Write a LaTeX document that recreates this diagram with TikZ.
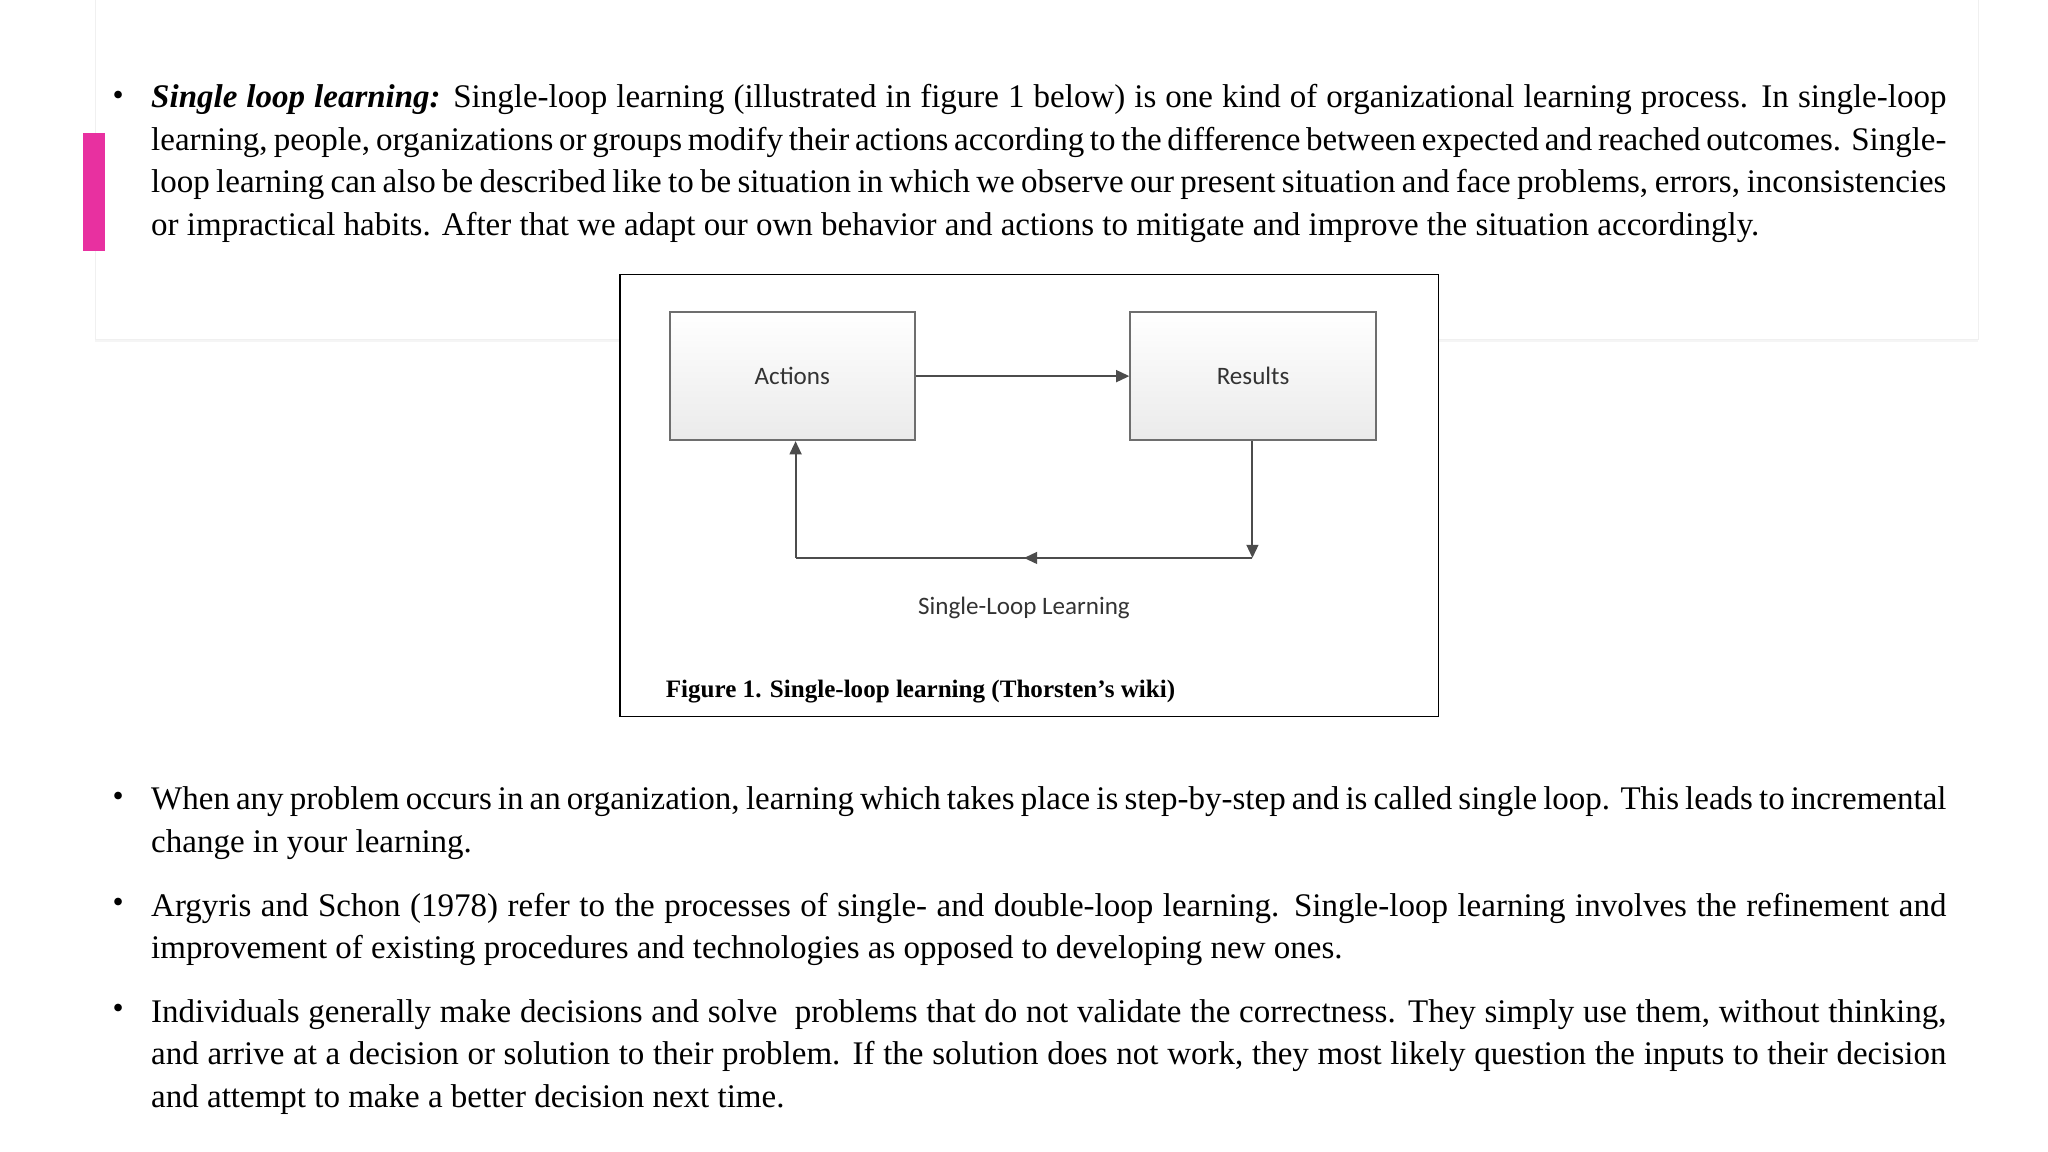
\documentclass[tikz,border=0pt]{standalone}
\usepackage{fontspec}
\setmainfont{Liberation Serif}
\newfontfamily\carl{Carlito}
\usetikzlibrary{arrows.meta,decorations.markings,shadows}
\definecolor{pinkbar}{RGB}{232,48,160}
\definecolor{boxgray}{RGB}{110,110,110}
\tikzset{
  para/.style={anchor=north west,inner sep=0pt,text width=1360pt,align=justify,font=\fontsize{25}{32.2}\selectfont},
  bul/.style={anchor=base,inner sep=0pt,font=\fontsize{24}{32}\selectfont},
  fbox/.style={draw=boxgray,line width=1.5pt,minimum width=186pt,minimum height=97pt,top color=white,bottom color=black!8,font=\carl\fontsize{19}{22}\selectfont,text=black!80},
  conn/.style={draw=black!70,line width=1.5pt,-{Triangle[length=10pt,width=9pt]}}
}
\begin{document}
\begin{tikzpicture}[x=0.9946pt,y=-0.9946pt]
\useasboundingbox (0,0) rectangle (1560,877.5);
\fill[white] (0,0) rectangle (1560,877.5);
% card
\node[fill=white,draw=black!6,minimum width=1427pt,minimum height=268pt,anchor=south west,inner sep=0pt,drop shadow={opacity=0.08,shadow xshift=0pt,shadow yshift=-2pt}] (card) at (72,259) {};
\fill[pinkbar] (63,101) rectangle (80,191);
% paragraph 1
\node[bul] (b1) at (90,80) {•};
\node[para] (p1) at (115,64) {\textbf{\textit{Single loop learning:}} Single-loop learning (illustrated in figure 1 below) is one kind of organizational learning process. In single-loop learning, people, organizations or groups modify their actions according to the difference between expected and reached outcomes. Single-loop learning can also be described like to be situation in which we observe our present situation and face problems, errors, inconsistencies or impractical habits. After that we adapt our own behavior and actions to mitigate and improve the situation accordingly.};
% figure
\node[draw=black,line width=1.2pt,fill=white,minimum width=620pt,minimum height=335pt,inner sep=0pt] (fig) at (784,377.5) {};
\node[fbox] (act) at (603.5,286.5) {Actions};
\node[fbox] (res) at (954.5,286.5) {Results};
\draw[conn] (act.east) -- (res.west);
\coordinate (c1) at (954,425);
\coordinate (c2) at (606,425);
\draw[conn] (res.south -| c1) -- (c1);
\draw[draw=black!70,line width=1.5pt,postaction={decorate},decoration={markings,mark=at position 0.5 with {\arrow{Triangle[length=10pt,width=9pt]}}}] (c1) -- (c2);
\draw[conn] (c2) -- (act.south -| c2);
\node[font=\carl\fontsize{19}{22}\selectfont,text=black!80] (sll) at (780,463) {Single-Loop Learning};
\node[anchor=base west,inner sep=0pt,font=\bfseries\fontsize{19}{22}\selectfont] (cap) at (507,531) {Figure 1. Single-loop learning (Thorsten’s wiki)};
% paragraphs
\node[bul] (b2) at (90,614) {•};
\node[para] (p2) at (115,599) {When any problem occurs in an organization, learning which takes place is step-by-step and is called single loop. This leads to incremental change in your learning.};
\node[bul] (b3) at (90,695) {•};
\node[para] (p3) at (115,680) {Argyris and Schon (1978) refer to the processes of single- and double-loop learning. Single-loop learning involves the refinement and improvement of existing procedures and technologies as opposed to developing new ones.};
\node[bul] (b4) at (90,776) {•};
\node[para] (p4) at (115,761) {Individuals generally make decisions and solve\ \ problems that do not validate the correctness. They simply use them, without thinking, and arrive at a decision or solution to their problem. If the solution does not work, they most likely question the inputs to their decision and attempt to make a better decision next time.};
\end{tikzpicture}
\end{document}
